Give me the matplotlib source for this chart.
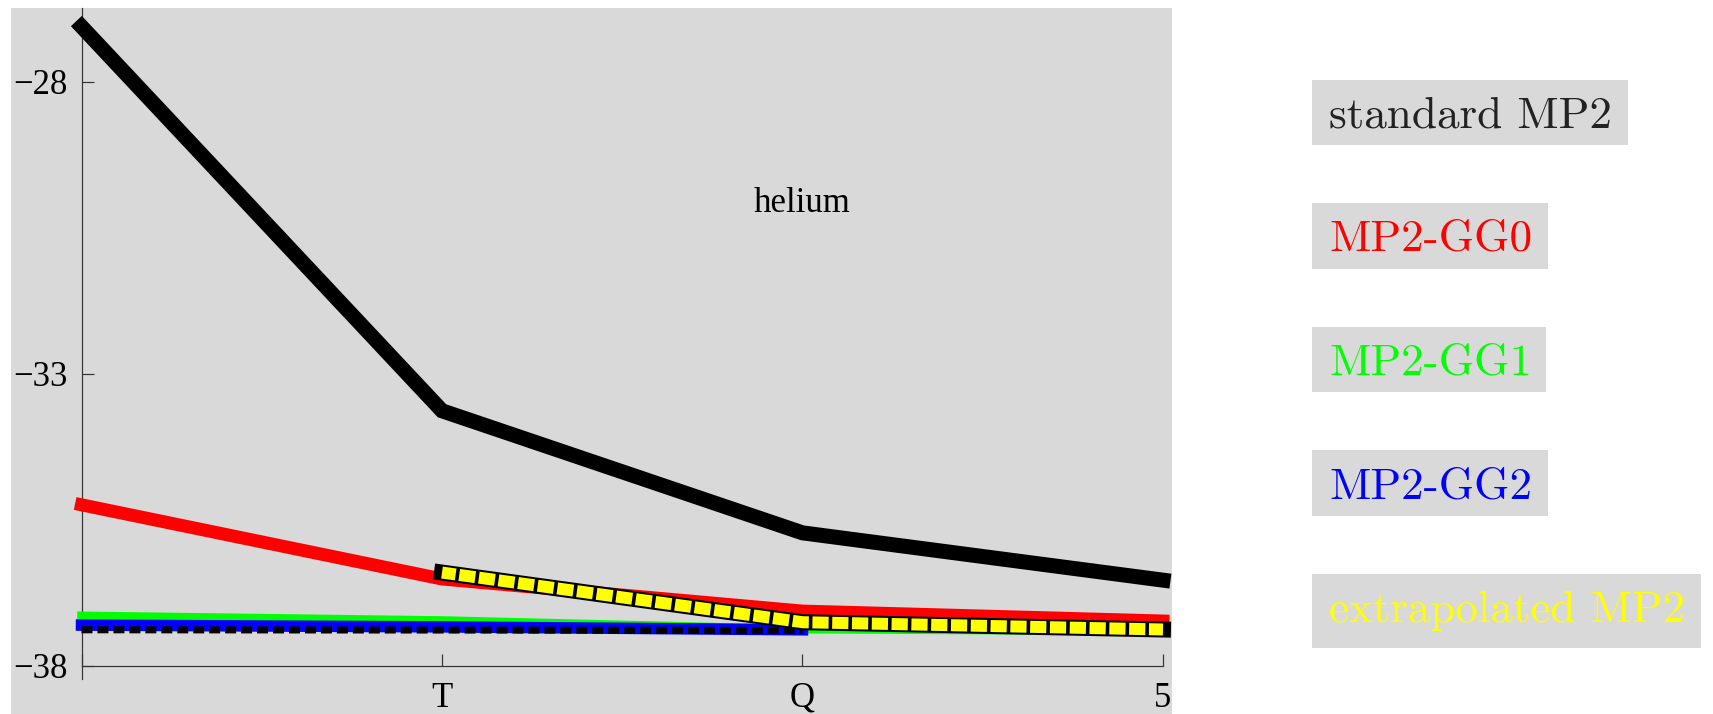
import matplotlib
matplotlib.use("Agg")
import matplotlib.pyplot as plt
from matplotlib.patches import Rectangle
from matplotlib.textpath import TextPath
from matplotlib.font_manager import FontProperties

# basis sets on the x axis (D, T, Q, 5)
basis_pos = [1, 2, 3, 4]
basis_labels = ["", "T", "Q", "5"]
y_ticks = [-28, -33, -38]

standard_mp2 = [-27.05, -33.63, -35.72, -36.53]
mp2_gg0 = [-35.24, -36.51, -37.06, -37.23]
mp2_gg1 = [-37.14, -37.22, -37.37, -37.40]
gg2_pos = [1, 2, 3]
mp2_gg2 = [-37.30, -37.33, -37.38]
mp2_gg2_dash = [-37.38, -37.385, -37.39]
extrap_pos = [2, 3, 4]
extrap_mp2 = [-36.40, -37.25, -37.375]

legend_labels = ["standard MP2", "MP2-GG0", "MP2-GG1", "MP2-GG2", "extrapolated MP2"]
legend_colors = ["#222222", "#ff0000", "#00ff00", "#0000ff", "#ffff00"]

W, H, DPI = 1713, 714, 100
PT = 72 / DPI  # points per pixel
BG = "#d9d9d9"


def fx(px):
    return px / W


def fy(py):
    return 1 - py / H


def main():
    fig = plt.figure(figsize=(W / DPI, H / DPI), dpi=DPI)
    ax = fig.add_axes([fx(11), 0, fx(1172) - fx(11), 1 - 8 / H])
    ax.set_facecolor(BG)

    common = dict(solid_capstyle="projecting", solid_joinstyle="miter")
    ax.plot(basis_pos, mp2_gg1, color="#00ff00", lw=8.5 * PT, zorder=2, **common)
    ax.plot(basis_pos, mp2_gg0, color="#ff0000", lw=13 * PT, zorder=3, **common)
    ax.plot(gg2_pos, mp2_gg2, color="#0000ff", lw=11.5 * PT, zorder=4, **common)
    ax.plot(gg2_pos, mp2_gg2_dash, color="black", lw=7 * PT, zorder=5,
            linestyle=(0, (1.57, 0.71)), dash_capstyle="butt")
    # extrapolated: black outline with yellow squares on top
    ax.plot(extrap_pos, extrap_mp2, color="black", lw=16 * PT, zorder=6, **common)
    ax.plot(extrap_pos, extrap_mp2, color="#ffff00", lw=12 * PT, zorder=7,
            linestyle=(0.2, (1.35, 0.3)), dash_capstyle="butt", dash_joinstyle="miter")
    ax.plot(basis_pos, standard_mp2, color="black", lw=15 * PT, zorder=8, **common)

    ax.set_xlim(0.8044, 4.025)
    ax.set_ylim(-38.822, -26.733)

    for s in ["top", "right"]:
        ax.spines[s].set_visible(False)
    ax.spines["left"].set_position(("data", 1))
    ax.spines["bottom"].set_position(("data", -38))
    ax.spines["left"].set_bounds(-38.22, -26.733)
    ax.spines["bottom"].set_bounds(1, 4)
    for s in ["left", "bottom"]:
        ax.spines[s].set_color("#333333")
        ax.spines[s].set_linewidth(1.2 * PT)
        ax.spines[s].set_zorder(1)

    ax.set_yticks(y_ticks)
    ax.set_xticks(basis_pos)
    ax.set_xticklabels(basis_labels)
    ax.tick_params(axis="y", direction="in", length=12 * PT, width=1.2 * PT,
                   color="#333333", pad=14 * PT, labelsize=25)
    ax.tick_params(axis="x", direction="in", length=12 * PT, width=1.2 * PT,
                   color="#333333", pad=16 * PT, labelsize=25)
    for lab in ax.get_xticklabels() + ax.get_yticklabels():
        lab.set_family("Liberation Serif")

    ax.text(3.0, -30.23, "helium", ha="center", va="baseline",
            fontsize=25, family="Liberation Serif", zorder=9)

    # legend: text labels on grey boxes at the right, boxes padded around the ink
    fs = 32.5
    fp = FontProperties(family="cmr10", size=fs)
    scale = DPI / 72
    for i, (label, color) in enumerate(zip(legend_labels, legend_colors)):
        base = 127 + i * 123.7
        fig.text(fx(1329), fy(base), label, color=color, fontsize=fs,
                 family="cmr10", ha="left", va="baseline", zorder=3)
        ext = TextPath((0, 0), label, size=fs, prop=fp).get_extents()
        ink_top = base - ext.y1 * scale
        ink_bot = base - ext.y0 * scale
        ink_right = 1329 + ext.x1 * scale
        top = ink_top - 16
        bot = max(ink_bot, base) + 17
        right = ink_right + 18
        fig.add_artist(Rectangle((fx(1312), fy(bot)), fx(right) - fx(1312), fy(top) - fy(bot),
                                 transform=fig.transFigure, facecolor=BG,
                                 edgecolor="none", zorder=1))

    fig.savefig("out.png", dpi=DPI)
    plt.close(fig)


if __name__ == "__main__":
    main()
